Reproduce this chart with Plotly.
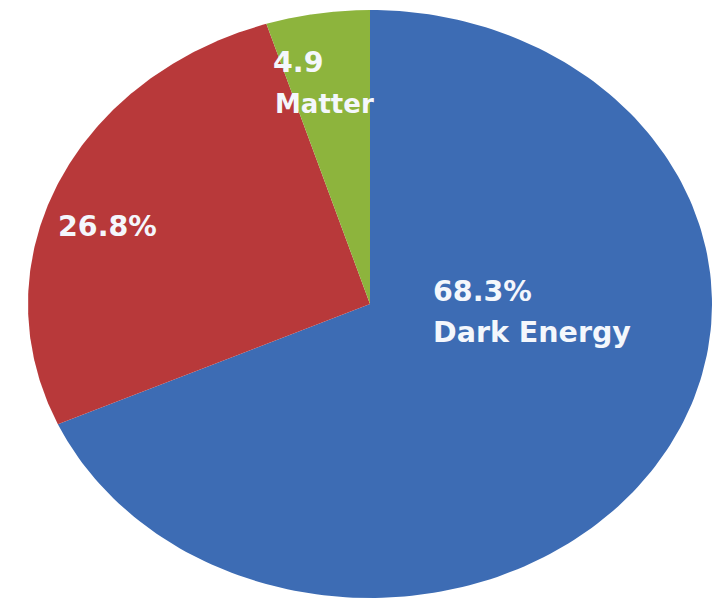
import numpy as np
import plotly.graph_objects as go

# ---- data ----
labels = ["Dark Energy", "Dark Matter", "Matter"]
values = [68.3, 26.8, 4.9]
value_text = ["68.3%", "26.8%", "4.9"]
name_text = ["Dark Energy", "", "Matter"]
colors = ["#3D6CB4", "#B8393A", "#8DB43D"]

# ---- geometry (pixel-like axes) ----
W, H = 712, 602
cx, cy, rx, ry = 370, 304, 342, 294

fig = go.Figure()
total = sum(values)
start = 0.0
for lab, v, col in zip(labels, values, colors):
    a0 = start / total * 2 * np.pi
    a1 = (start + v) / total * 2 * np.pi
    th = np.linspace(a0, a1, 200)
    xs = np.concatenate([[cx], cx + rx * np.sin(th), [cx]])
    ys = np.concatenate([[cy], cy - ry * np.cos(th), [cy]])
    fig.add_trace(go.Scatter(x=xs, y=ys, fill="toself", fillcolor=col,
                             mode="lines", line=dict(width=0, color=col),
                             name=lab, hoverinfo="name", showlegend=False))
    start += v

font_big = dict(family="DejaVu Sans", size=28.5, color="#F4F7FC")
font_small = dict(family="DejaVu Sans", size=26, color="#F4F7FC")

# label placements (style/layout)
pos = {
    0: [(431, 291, font_big), (431, 332, font_big)],
    1: [(56, 226, font_big), None],
    2: [(271, 62, font_big), (273, 104, font_small)],
}
for i in range(len(values)):
    lines = [value_text[i], name_text[i]]
    for j, txt in enumerate(lines):
        p = pos[i][j]
        if not txt or p is None:
            continue
        x, y, f = p
        fig.add_annotation(x=x, y=y, xref="x", yref="y", text="<b>" + txt + "</b>",
                           showarrow=False, xanchor="left", yanchor="middle",
                           font=f)

fig.update_xaxes(range=[0, W], visible=False, fixedrange=True)
fig.update_yaxes(range=[H, 0], visible=False, fixedrange=True)
fig.update_layout(width=W, height=H, margin=dict(l=0, r=0, t=0, b=0),
                  paper_bgcolor="white", plot_bgcolor="white")
fig.write_html("out.html")
